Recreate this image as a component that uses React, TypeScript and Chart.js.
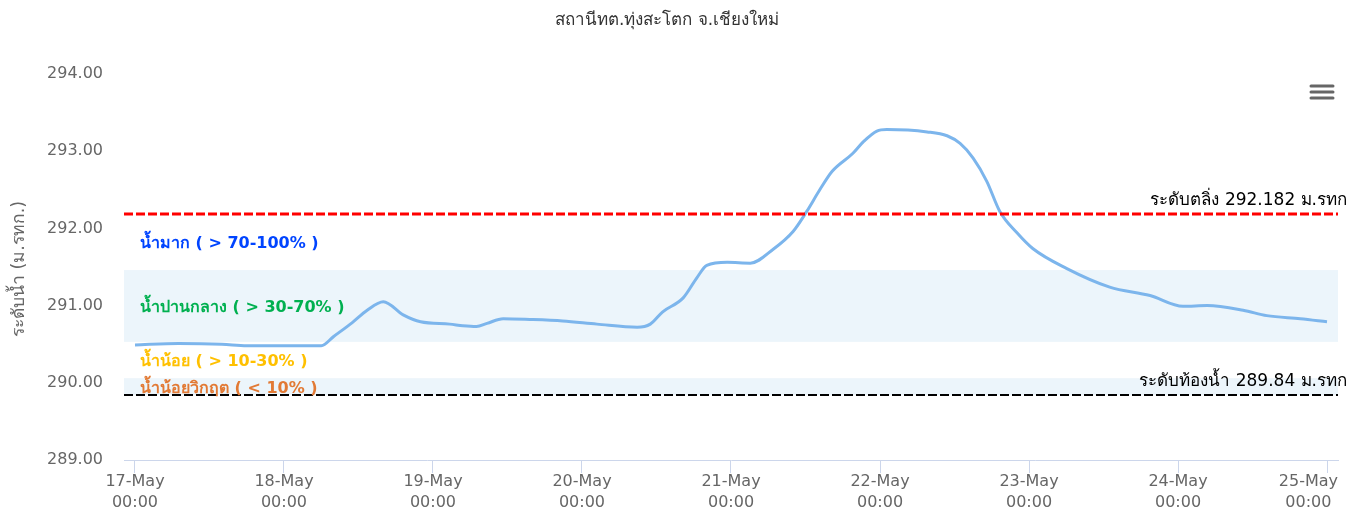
import React, { useEffect, useRef } from "react";
import { Chart, registerables } from "chart.js";

Chart.register(...registerables);

const chartTitle = "สถานีทต.ทุ่งสะโตก จ.เชียงใหม่";
const yAxisTitle = "ระดับน้ำ (ม.รทก.)";

// x-axis tick labels (one per day, at 00:00)
const dayLabels = ["17-May", "18-May", "19-May", "20-May", "21-May", "22-May", "23-May", "24-May", "25-May"];
const timeLabel = "00:00";
const dayTickHours = [0, 24, 48, 72, 96, 120, 144, 168, 192];

// hours since 17-May 00:00
const hours = [
  0, 7, 14, 18, 27, 30, 32, 35, 37.4, 40, 43.2, 46, 50.7, 52.8, 55, 56.7, 59.3, 63.6, 68.9, 74.4,
  80.9, 83, 85, 88.3, 90.5, 92.1, 95.4, 99.1, 102.8, 106, 108.2, 110.3, 112.3, 115.6, 117.3, 119.5,
  121.1, 127.6, 130.8, 132.9, 135, 137.2, 139.3, 142.1, 144.6, 150.1, 157, 163.5, 168.8, 172.7,
  178.5, 182.3, 187.7, 192,
];
// water level (m. MSL)
const levels = [
  290.49, 290.51, 290.5, 290.48, 290.48, 290.48, 290.6, 290.78, 290.94, 291.05, 290.88, 290.79, 290.76,
  290.74, 290.73, 290.77, 290.83, 290.82, 290.8, 290.76, 290.72, 290.76, 290.92, 291.1, 291.36, 291.52,
  291.56, 291.55, 291.73, 291.96, 292.22, 292.5, 292.74, 292.97, 293.12, 293.26, 293.28, 293.25,
  293.2, 293.1, 292.91, 292.61, 292.22, 291.94, 291.74, 291.48, 291.24, 291.13, 290.99, 291.0, 290.94,
  290.87, 290.83, 290.79,
];

// plot bands
const bandFrom = [291.46, 290.53, 290.06, 289.84];
const bandTo = [292.182, 291.46, 290.53, 290.06];
const bandFill = ["rgba(0,0,0,0)", "#ecf5fb", "rgba(0,0,0,0)", "#ecf5fb"];
const bandLabels = ["น้ำมาก ( > 70-100% )", "น้ำปานกลาง ( > 30-70% )", "น้ำน้อย ( > 10-30% )", "น้ำน้อยวิกฤต ( < 10% )"];
const bandLabelColors = ["#0044ff", "#00b050", "#ffc000", "#e27a35"];

// plot lines
const lineValues = [292.182, 289.84];
const lineColors = ["#ff0000", "#000000"];
const lineWidths = [3, 2];
const lineLabels = ["ระดับตลิ่ง 292.182 ม.รทก", "ระดับท้องน้ำ 289.84 ม.รทก"];

const FONT = '"DejaVu Sans", "Noto Sans", sans-serif';

const overlayPlugin = {
  id: "overlay",
  beforeDatasetsDraw(chart: any) {
    const { ctx, chartArea } = chart;
    const y = chart.scales.y;
    ctx.save();
    for (let i = 0; i < bandFrom.length; i++) {
      const y1 = y.getPixelForValue(bandTo[i]);
      const y2 = y.getPixelForValue(bandFrom[i]);
      ctx.fillStyle = bandFill[i];
      ctx.fillRect(chartArea.left, y1, chartArea.right - chartArea.left, y2 - y1);
    }
    ctx.restore();
  },
  afterDatasetsDraw(chart: any) {
    const { ctx, chartArea } = chart;
    const y = chart.scales.y;
    const x = chart.scales.x;
    ctx.save();
    // plot lines
    for (let i = 0; i < lineValues.length; i++) {
      const py = Math.round(y.getPixelForValue(lineValues[i]));
      ctx.beginPath();
      ctx.setLineDash([9, 3]);
      ctx.strokeStyle = lineColors[i];
      ctx.lineWidth = lineWidths[i];
      ctx.moveTo(chartArea.left, py);
      ctx.lineTo(chartArea.right, py);
      ctx.stroke();
      ctx.setLineDash([]);
      ctx.fillStyle = "#000000";
      ctx.font = `17px ${FONT}`;
      ctx.textAlign = "right";
      ctx.textBaseline = "middle";
      ctx.fillText(lineLabels[i], 1347, py - 13);
    }
    // band labels
    ctx.font = `bold 16px ${FONT}`;
    ctx.textAlign = "left";
    ctx.textBaseline = "middle";
    for (let i = 0; i < bandLabels.length; i++) {
      const cy = y.getPixelForValue((bandFrom[i] + bandTo[i]) / 2);
      ctx.fillStyle = bandLabelColors[i];
      ctx.fillText(bandLabels[i], chartArea.left + 16, cy + 2);
    }
    // x-axis labels (kept inside the chart like the original)
    ctx.font = `16px ${FONT}`;
    ctx.fillStyle = "#666666";
    ctx.textAlign = "center";
    for (let i = 0; i < dayTickHours.length; i++) {
      const px = x.getPixelForValue(dayTickHours[i]);
      const w = ctx.measureText(dayLabels[i]).width;
      const cx = Math.min(px, chartArea.right - w / 2);
      ctx.fillText(dayLabels[i], cx, 482);
      ctx.fillText(timeLabel, cx, 503);
    }
    // title
    ctx.fillStyle = "#333333";
    ctx.font = `17px ${FONT}`;
    ctx.textAlign = "center";
    ctx.fillText(chartTitle, 667, 21);
    // y-axis title
    ctx.save();
    ctx.translate(19, (chartArea.top + chartArea.bottom) / 2 + 2);
    ctx.rotate(-Math.PI / 2);
    ctx.fillStyle = "#666666";
    ctx.font = `17.5px ${FONT}`;
    ctx.fillText(yAxisTitle, 0, 0);
    ctx.restore();
    // context menu icon
    ctx.strokeStyle = "#666666";
    ctx.lineWidth = 3;
    ctx.lineCap = "round";
    for (const hy of [86, 92, 98]) {
      ctx.beginPath();
      ctx.moveTo(1311, hy);
      ctx.lineTo(1333, hy);
      ctx.stroke();
    }
    ctx.restore();
  },
};

export default function App() {
  const ref = useRef<HTMLCanvasElement | null>(null);
  useEffect(() => {
    if (!ref.current) return;
    const chart = new Chart(ref.current, {
      type: "line",
      data: {
        datasets: [
          {
            data: hours.map((h, i) => ({ x: h, y: levels[i] })),
            borderColor: "#7cb5ec",
            borderWidth: 3,
            pointRadius: 0,
            fill: false,
            cubicInterpolationMode: "monotone",
          },
        ],
      },
      options: {
        animation: false,
        responsive: false,
        devicePixelRatio: 1,
        layout: { padding: { top: 74, right: 10, left: 0, bottom: 0 } },
        plugins: { legend: { display: false }, tooltip: { enabled: false }, title: { display: false } },
        scales: {
          x: {
            type: "linear",
            min: -1.77,
            max: 193.77,
            afterBuildTicks: (axis: any) => {
              axis.ticks = dayTickHours.map((v) => ({ value: v }));
            },
            afterFit: (s: any) => {
              s.height = 60;
              s.paddingLeft = 0;
              s.paddingRight = 0;
            },
            grid: { drawOnChartArea: false, color: "#ccd6eb", tickLength: 13, lineWidth: 1 },
            border: { color: "#ccd6eb", width: 1 },
            ticks: { display: false, autoSkip: false, maxRotation: 0, minRotation: 0 },
          },
          y: {
            min: 289,
            max: 294,
            afterFit: (s: any) => {
              s.width = 124;
              s.paddingTop = 0;
              s.paddingBottom = 0;
            },
            grid: { display: false, drawTicks: false },
            border: { display: false },
            ticks: {
              stepSize: 1,
              padding: 21,
              color: "#666666",
              font: { family: FONT, size: 16 },
              callback: (v: any) => Number(v).toFixed(2),
            },
          },
        },
      },
      plugins: [overlayPlugin],
    });
    return () => chart.destroy();
  }, []);
  return (
    <div style={{ position: "fixed", left: 0, top: 0, width: 1348, height: 520, background: "#fff" }}>
      <canvas ref={ref} width={1348} height={520} />
    </div>
  );
}
